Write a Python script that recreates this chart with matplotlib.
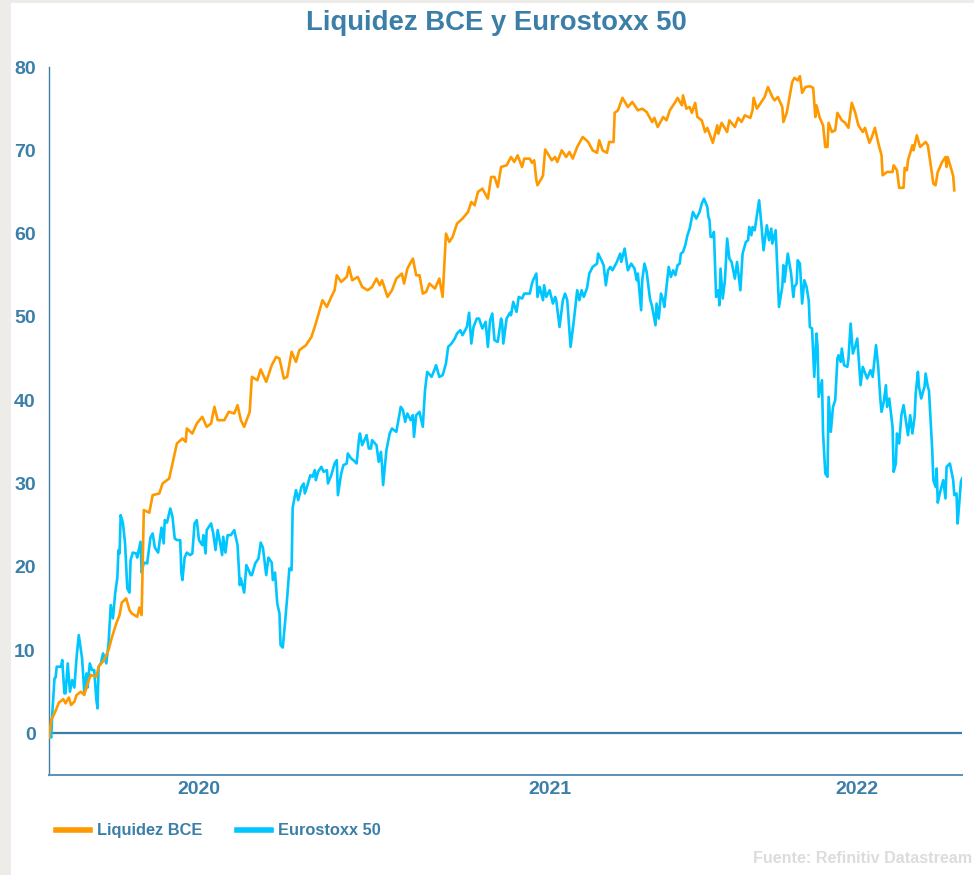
import matplotlib
matplotlib.use('Agg')
import matplotlib.pyplot as plt
import pandas as pd
from matplotlib.patches import Rectangle
from matplotlib.lines import Line2D

plt.rcParams['font.family'] = ['Liberation Sans', 'DejaVu Sans']
plt.rcParams['font.weight'] = 'bold'

# series start / end dates, values are % change since start
start = pd.Timestamp('2020-04-04')
end = pd.Timestamp('2022-07-11')
years = [2020, 2021, 2022]

# Liquidez BCE: days since start, value
bce_days = [0, 2, 5, 9, 13, 15, 18, 20, 23, 25, 29, 32, 35, 38, 43, 45, 50, 54, 57, 61,
            64, 66, 70, 73, 75, 80, 82, 84, 86, 91, 94, 100, 103, 109, 112, 116, 121, 124, 125, 130,
            134, 139, 143, 147, 150, 153, 159, 163, 168, 171, 174, 177, 182, 184, 189, 192, 197, 202, 206, 209,
            213, 216, 220, 224, 227, 233, 238, 241, 245, 248, 252, 256, 259, 261, 265, 270, 272, 275, 280, 284,
            289, 293, 297, 300, 302, 307, 311, 315, 320, 322, 325, 330, 333, 336, 339, 342, 345, 350, 354, 357,
            360, 363, 366, 370, 375, 380, 383, 386, 389, 393, 398, 401, 404, 407, 410, 415, 419, 422, 425, 429,
            431, 436, 438, 440, 442, 443, 447, 448, 450, 456, 459, 461, 465, 469, 472, 475, 479, 484, 489, 493,
            497, 499, 502, 506, 508, 512, 513, 516, 520, 525, 529, 534, 538, 542, 547, 549, 552, 557, 560, 563,
            568, 570, 574, 575, 578, 581, 583, 586, 588, 592, 595, 597, 599, 602, 606, 607, 610, 615, 617, 622,
            625, 628, 631, 636, 638, 639, 642, 646, 649, 652, 656, 658, 661, 665, 666, 669, 670, 674, 676, 679,
            681, 683, 686, 690, 693, 695, 696, 699, 702, 704, 706, 707, 710, 713, 715, 719, 722, 725, 728, 731,
            734, 738, 740, 744, 746, 749, 752, 755, 756, 760, 765, 766, 769, 771, 775, 776, 778, 779, 783, 784,
            787, 790, 795, 797, 799, 802, 804, 806, 810, 813, 814, 815, 819, 820, 821]
bce_vals = [-0.5, 1.6, 2.4, 3.7, 4.1, 3.6, 4.3, 3.4, 3.8, 4.6, 5.0, 4.6, 6.0, 7.0, 6.8, 8.0, 8.8, 10.0, 11.5, 13.2,
            14.2, 15.7, 16.2, 14.8, 14.4, 14.0, 15.1, 14.2, 26.8, 26.5, 28.6, 28.8, 30.0, 30.6, 32.4, 34.8, 35.4, 35.0, 36.6, 36.0,
            37.2, 38.0, 36.8, 37.2, 39.2, 37.6, 37.6, 38.6, 38.4, 39.4, 37.6, 36.8, 38.6, 42.8, 42.4, 43.7, 42.2, 44.2, 45.2, 45.0,
            42.6, 42.8, 45.8, 44.6, 46.0, 46.6, 47.6, 48.8, 50.6, 52.0, 51.2, 52.4, 53.2, 55.0, 54.2, 54.8, 56.0, 54.4, 54.8, 53.6,
            53.2, 53.6, 54.6, 53.8, 54.4, 52.4, 53.2, 54.6, 55.2, 54.0, 55.8, 57.0, 55.0, 55.0, 52.8, 53.0, 54.0, 53.4, 54.6, 52.4,
            60.0, 59.0, 59.6, 61.2, 61.8, 62.6, 63.8, 63.4, 65.0, 65.4, 64.2, 66.8, 66.8, 65.6, 68.0, 68.2, 69.2, 68.6, 69.4, 68.0,
            69.0, 69.0, 68.5, 68.8, 66.4, 65.8, 66.7, 67.0, 70.1, 68.8, 69.2, 68.6, 70.0, 69.2, 69.8, 69.0, 70.4, 71.6, 71.0, 70.0,
            69.7, 71.2, 70.0, 69.7, 71.0, 71.0, 74.5, 74.8, 76.3, 75.2, 75.8, 74.8, 75.0, 74.6, 73.4, 73.9, 72.8, 74.0, 73.6, 74.8,
            75.8, 76.3, 75.4, 76.6, 75.0, 75.2, 74.5, 75.7, 74.0, 73.6, 72.2, 72.7, 72.0, 70.9, 73.0, 72.0, 73.3, 72.2, 73.6, 72.8,
            73.9, 73.4, 74.2, 73.9, 74.8, 76.3, 75.0, 75.8, 76.4, 77.6, 76.4, 76.0, 76.4, 75.2, 73.4, 74.5, 75.2, 78.2, 78.7, 78.4,
            78.9, 76.9, 77.6, 77.7, 77.5, 74.0, 75.4, 73.9, 73.0, 70.4, 70.4, 73.3, 72.2, 72.4, 74.5, 73.6, 73.3, 72.7, 75.7, 74.6,
            73.0, 72.2, 72.7, 70.9, 71.5, 72.7, 70.9, 69.4, 67.0, 67.4, 67.4, 68.2, 67.6, 65.5, 65.5, 67.9, 67.6, 68.8, 70.6, 70.0,
            71.8, 70.4, 71.0, 70.6, 68.8, 66.0, 65.8, 67.4, 68.6, 69.2, 68.0, 69.2, 67.4, 66.9, 65.2]

# Eurostoxx 50: days since start, value
stoxx_days = [0, 2, 3, 5, 6, 7, 11, 12, 14, 15, 17, 19, 21, 23, 25, 27, 30, 32, 34, 35,
              37, 39, 41, 43, 44, 45, 47, 49, 52, 54, 56, 58, 60, 62, 63, 64, 65, 67, 69, 71,
              73, 74, 76, 79, 80, 83, 84, 86, 89, 92, 94, 96, 99, 102, 104, 105, 107, 110, 112, 114,
              116, 119, 120, 121, 123, 125, 128, 130, 132, 134, 136, 139, 140, 142, 143, 147, 149, 151, 153, 155,
              157, 158, 160, 162, 165, 168, 171, 173, 174, 177, 179, 183, 184, 187, 190, 192, 194, 197, 199, 202,
              203, 205, 207, 209, 210, 212, 214, 216, 218, 220, 221, 224, 226, 229, 231, 232, 234, 237, 239, 241,
              242, 244, 247, 249, 252, 253, 256, 259, 261, 262, 265, 267, 270, 271, 274, 276, 279, 281, 282, 284,
              288, 290, 292, 293, 297, 299, 301, 302, 303, 306, 309, 311, 315, 319, 321, 323, 325, 328, 330, 331,
              333, 336, 339, 341, 343, 347, 350, 351, 354, 357, 360, 362, 365, 368, 370, 373, 375, 379, 381, 383,
              385, 388, 390, 393, 396, 398, 400, 402, 404, 407, 410, 411, 412, 415, 418, 419, 421, 424, 426, 429,
              431, 436, 438, 439, 442, 443, 445, 448, 449, 451, 454, 457, 459, 460, 463, 466, 468, 470, 473, 476,
              479, 481, 483, 485, 488, 490, 493, 497, 498, 501, 503, 505, 507, 509, 511, 515, 518, 519, 522, 525,
              528, 531, 533, 534, 537, 538, 540, 542, 545, 547, 550, 551, 553, 555, 557, 558, 562, 564, 566, 568,
              570, 572, 573, 575, 577, 579, 581, 584, 587, 590, 592, 594, 597, 598, 599, 600, 602, 603, 605, 607,
              608, 609, 611, 613, 615, 617, 619, 622, 624, 627, 629, 632, 634, 635, 637, 638, 640, 642, 644, 646,
              648, 651, 653, 655, 656, 659, 662, 665, 666, 667, 670, 673, 675, 676, 678, 679, 681, 683, 685, 687,
              689, 690, 692, 694, 696, 697, 698, 701, 702, 704, 706, 707, 709, 711, 713, 715, 716, 718, 719, 721,
              724, 725, 727, 729, 731, 733, 735, 736, 738, 742, 745, 747, 750, 752, 754, 755, 757, 759, 760, 762,
              765, 766, 768, 769, 771, 773, 775, 777, 779, 781, 783, 785, 786, 788, 789, 791, 793, 794, 795, 797,
              798, 801, 802, 804, 805, 806, 808, 811, 813, 814, 817, 820, 821, 823, 824, 825, 827, 828]
stoxx_vals = [0.4, -0.5, 2.4, 6.6, 6.7, 8.0, 8.0, 8.8, 4.8, 4.8, 8.4, 5.0, 6.4, 5.5, 9.1, 11.8, 9.0, 5.0, 7.2, 5.5,
              8.4, 7.6, 7.6, 4.0, 3.0, 8.0, 8.4, 9.6, 8.4, 10.8, 15.4, 13.8, 16.8, 18.7, 22.0, 21.6, 26.2, 25.3, 22.8, 17.4,
              16.9, 20.8, 21.7, 21.6, 21.1, 23.0, 19.3, 20.5, 20.4, 23.5, 24.0, 22.3, 21.7, 24.7, 22.8, 25.6, 25.3, 27.0, 26.0, 23.4,
              23.2, 23.2, 19.3, 18.4, 21.1, 21.7, 21.4, 21.6, 25.2, 25.6, 23.2, 22.6, 23.8, 21.6, 24.4, 25.2, 24.0, 22.0, 24.4, 23.0,
              21.4, 23.6, 21.7, 23.8, 23.8, 24.4, 22.6, 17.8, 18.6, 16.9, 20.2, 19.0, 19.0, 20.4, 21.0, 22.9, 22.3, 19.0, 21.1, 20.5,
              18.4, 19.3, 15.6, 14.4, 10.6, 10.3, 13.2, 16.3, 19.8, 19.6, 27.1, 29.2, 28.0, 29.6, 30.0, 28.8, 29.6, 31.0, 30.8, 31.6,
              30.4, 31.4, 32.0, 31.4, 31.6, 30.0, 31.0, 32.4, 32.8, 28.6, 31.2, 32.2, 32.4, 33.6, 33.0, 32.8, 32.4, 35.2, 36.0, 34.6,
              35.8, 34.2, 34.2, 35.2, 34.6, 32.6, 33.8, 32.2, 29.8, 34.0, 36.0, 36.6, 36.2, 39.2, 38.8, 37.4, 38.4, 37.6, 38.2, 35.6,
              38.2, 38.6, 36.8, 41.2, 43.4, 42.8, 43.8, 44.2, 42.8, 43.0, 44.4, 46.4, 46.8, 47.4, 48.0, 48.4, 47.8, 48.8, 50.5, 46.8,
              48.8, 49.8, 49.8, 48.6, 49.4, 46.4, 49.6, 50.4, 47.2, 47.0, 49.8, 49.2, 46.8, 49.8, 50.5, 50.2, 51.8, 50.6, 52.4, 52.2,
              52.8, 52.8, 54.0, 54.4, 55.2, 52.4, 53.6, 52.0, 53.8, 52.4, 53.2, 51.6, 52.4, 52.0, 48.8, 52.0, 52.8, 52.0, 46.4, 49.6,
              53.2, 52.0, 53.2, 52.4, 53.5, 55.2, 56.0, 56.4, 57.6, 56.8, 56.2, 53.8, 55.6, 56.0, 55.6, 56.6, 57.6, 56.6, 58.2, 55.6,
              56.4, 55.8, 54.4, 55.2, 50.8, 54.4, 56.4, 55.4, 52.2, 51.2, 49.0, 51.6, 49.8, 52.8, 52.0, 51.2, 56.0, 54.8, 55.6, 55.0,
              56.2, 56.4, 57.6, 57.8, 58.6, 59.8, 60.6, 62.6, 61.8, 62.6, 63.6, 64.2, 63.2, 62.0, 61.6, 59.6, 59.6, 60.2, 52.4, 53.2,
              51.4, 55.8, 52.2, 54.4, 59.4, 57.0, 56.6, 54.6, 56.6, 53.2, 57.6, 59.0, 59.2, 60.8, 59.8, 60.8, 60.4, 62.2, 64.0, 61.2,
              58.0, 61.0, 59.2, 60.6, 58.8, 60.4, 51.2, 53.6, 56.2, 54.2, 57.6, 55.2, 52.4, 53.6, 54.0, 56.8, 56.4, 51.6, 54.4, 53.6,
              52.0, 48.8, 48.6, 42.8, 48.0, 46.4, 40.4, 42.4, 36.0, 31.2, 30.8, 40.4, 36.2, 39.2, 40.0, 45.0, 45.4, 44.6, 46.2, 44.2,
              44.0, 45.0, 49.2, 45.6, 46.4, 47.4, 43.6, 41.8, 44.0, 42.6, 43.6, 42.8, 46.6, 44.0, 40.0, 38.6, 39.8, 41.8, 39.2, 40.2,
              36.8, 31.4, 32.4, 36.0, 34.8, 38.2, 39.4, 37.6, 35.8, 38.2, 36.0, 38.0, 40.8, 43.4, 41.6, 40.2, 41.2, 41.6, 43.2, 41.6,
              41.2, 34.0, 30.4, 29.6, 31.8, 27.7, 28.9, 30.4, 28.2, 32.0, 32.4, 30.4, 28.6, 28.8, 25.2, 26.8, 30.2, 30.6]

blue = '#3b7ea8'
orange = '#ff9900'
cyan = '#00c6ff'

bce_dates = start + pd.to_timedelta(bce_days, unit='D')
stoxx_dates = start + pd.to_timedelta(stoxx_days, unit='D')

fig = plt.figure(figsize=(9.74, 8.75), dpi=100, facecolor='#edece9')
fig.patches.append(Rectangle((11 / 974, 0), 1, 1 - 3 / 875, transform=fig.transFigure,
                             facecolor='white', edgecolor='none', zorder=-10))

ax = fig.add_axes([0.0503, 0.1143, 0.9374, 0.8091])
ax.set_facecolor('none')

ax.plot(stoxx_dates, stoxx_vals, color=cyan, lw=1.9, zorder=3)
ax.plot(bce_dates, bce_vals, color=orange, lw=1.9, zorder=4)
ax.axhline(0, color=blue, lw=1.6, zorder=2)

ax.set_xlim(start, end)
ax.set_ylim(-5, 80)
ax.set_yticks([0, 10, 20, 30, 40, 50, 60, 70, 80])

# year labels centred on the visible part of each year
mids = []
for y in years:
    a = max(start, pd.Timestamp(y, 1, 1))
    b = min(end, pd.Timestamp(y + 1, 1, 1))
    mids.append(a + (b - a) / 2)
ax.set_xticks(mids)
ax.set_xticklabels([str(y) for y in years])

ax.tick_params(axis='both', length=0, colors=blue, labelsize=14)
ax.tick_params(axis='y', pad=9.5)
ax.tick_params(axis='x', pad=4)
for lab in ax.get_xticklabels() + ax.get_yticklabels():
    lab.set_fontweight('bold')

for s in ['top', 'right']:
    ax.spines[s].set_visible(False)
ax.spines['left'].set_color(blue)
ax.spines['left'].set_linewidth(1.0)
ax.spines['bottom'].set_color('#5b91b5')
ax.spines['bottom'].set_linewidth(1.4)

fig.text(0.51, 0.974, 'Liquidez BCE y Eurostoxx 50', ha='center', va='center',
         fontsize=19.8, fontweight='bold', color=blue)

handles = [Line2D([], [], color=orange, lw=4), Line2D([], [], color=cyan, lw=4)]
fig.legend(handles, ['Liquidez BCE', 'Eurostoxx 50'], loc='center left',
           bbox_to_anchor=(0.057, 0.0503), ncol=2, frameon=False,
           handlelength=2.1, handletextpad=0.43, columnspacing=2.1,
           borderaxespad=0, borderpad=0, labelcolor=blue,
           prop={'weight': 'bold', 'size': 11.8})

fig.text(0.998, 0.019, 'Fuente: Refinitiv Datastream', ha='right', va='center',
         fontsize=11.6, fontweight='bold', color='#dcdcdc')

fig.savefig('out.png', dpi=100, facecolor=fig.get_facecolor())
